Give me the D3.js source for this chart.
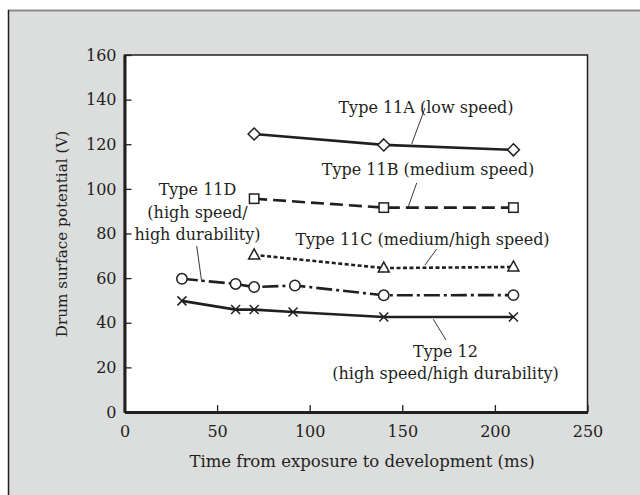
<!DOCTYPE html>
<html>
<head>
<meta charset="utf-8">
<script src="https://cdn.jsdelivr.net/npm/d3@7"></script>
<style>
  html, body { margin: 0; padding: 0; background: #ffffff; }
  svg { display: block; }
  text { font-family: "DejaVu Serif", serif; fill: #231f20; }
</style>
</head>
<body>
<svg id="chart" width="640" height="495"></svg>
<script>
// ---------- Data ----------
const xTicks = [0, 50, 100, 150, 200, 250];
const yTicks = [0, 20, 40, 60, 80, 100, 120, 140, 160];

const type11A_x = [70, 140, 210];
const type11A_y = [124.6, 119.7, 117.5];

const type11B_x = [70, 140, 210];
const type11B_y = [95.6, 91.6, 91.6];

const type11C_x = [70, 140, 210];
const type11C_y = [70.4, 64.5, 65.0];

const type11D_x = [31, 60, 70, 92, 140, 210];
const type11D_y = [59.7, 57.4, 56.0, 56.7, 52.3, 52.4];

const type12_x = [31, 60, 70, 91, 140, 210];
const type12_y = [49.8, 45.9, 45.9, 44.8, 42.6, 42.6];

const xTitle = "Time from exposure to development (ms)";
const yTitle = "Drum surface potential (V)";

const labels11A = ["Type 11A (low speed)"];
const labels11B = ["Type 11B (medium speed)"];
const labels11C = ["Type 11C (medium/high speed)"];
const labels11D = ["Type 11D", "(high speed/", "high durability)"];
const labels12 = ["Type 12", "(high speed/high durability)"];

// ---------- Layout ----------
const svg = d3.select("#chart");
const ink = "#231f20";
const plot = { left: 124.5, right: 587.5, top: 55, bottom: 412 };

const x = d3.scaleLinear().domain([0, 250]).range([plot.left, plot.right]);
const y = d3.scaleLinear().domain([0, 160]).range([plot.bottom, plot.top]);

// Panel background
svg.append("rect").attr("x", 8).attr("y", 10).attr("width", 632).attr("height", 485)
  .attr("fill", "#dcdddd");
svg.append("line").attr("x1", 8).attr("x2", 640).attr("y1", 10.5).attr("y2", 10.5)
  .attr("stroke", "#8c8c8c").attr("stroke-width", 2);
svg.append("line").attr("x1", 8.5).attr("x2", 8.5).attr("y1", 10).attr("y2", 495)
  .attr("stroke", ink).attr("stroke-width", 1.5);

// Plot area
svg.append("rect").attr("x", plot.left).attr("y", plot.top)
  .attr("width", plot.right - plot.left).attr("height", plot.bottom - plot.top)
  .attr("fill", "#ffffff").attr("stroke", ink).attr("stroke-width", 1.5);

// Axes
const xAxis = d3.axisBottom(x).tickValues(xTicks).tickSizeInner(-7).tickSizeOuter(0).tickPadding(14)
  .tickFormat(d3.format("d"));
const gx = svg.append("g").attr("transform", `translate(0,${plot.bottom})`).call(xAxis);
gx.select(".domain").attr("stroke", ink).attr("stroke-width", 3);
gx.selectAll(".tick line").attr("stroke", ink).attr("stroke-width", 1.3);
gx.selectAll(".tick text").attr("font-family", "DejaVu Serif").attr("font-size", 16).attr("fill", ink);

const yAxis = d3.axisLeft(y).tickValues(yTicks).tickSizeInner(-7).tickSizeOuter(0).tickPadding(8)
  .tickFormat(d3.format("d"));
const gy = svg.append("g").attr("transform", `translate(${plot.left},0)`).call(yAxis);
gy.select(".domain").attr("stroke", ink).attr("stroke-width", 3);
gy.selectAll(".tick line").attr("stroke", ink).attr("stroke-width", 1.3);
gy.selectAll(".tick text").attr("font-family", "DejaVu Serif").attr("font-size", 16).attr("fill", ink);

// Axis titles
svg.append("text").attr("x", 362).attr("y", 467).attr("text-anchor", "middle")
  .attr("font-size", 16.5).text(xTitle);
svg.append("text").attr("transform", "translate(67,234) rotate(-90)").attr("text-anchor", "middle")
  .attr("font-size", 15.2).text(yTitle);

// ---------- Series ----------
const line = d3.line().x(d => x(d[0])).y(d => y(d[1]));
const zip = (xs, ys) => xs.map((v, i) => [v, ys[i]]);

const series = [
  { data: zip(type11A_x, type11A_y), dash: null, marker: "diamond" },
  { data: zip(type11B_x, type11B_y), dash: "13,6", marker: "square" },
  { data: zip(type11C_x, type11C_y), dash: "4,2.5", marker: "triangle" },
  { data: zip(type11D_x, type11D_y), dash: "16,4,3,4", marker: "circle" },
  { data: zip(type12_x, type12_y), dash: null, marker: "cross" }
];

series.forEach(s => {
  svg.append("path").datum(s.data).attr("d", line)
    .attr("fill", "none").attr("stroke", ink).attr("stroke-width", 2.6)
    .attr("stroke-dasharray", s.dash);
});

series.forEach(s => {
  const g = svg.append("g");
  s.data.forEach(d => {
    const cx = x(d[0]), cy = y(d[1]);
    if (s.marker === "diamond") {
      g.append("path").attr("d", `M${cx},${cy-6}L${cx+6},${cy}L${cx},${cy+6}L${cx-6},${cy}Z`)
        .attr("fill", "#fff").attr("stroke", ink).attr("stroke-width", 1.5);
    } else if (s.marker === "square") {
      g.append("rect").attr("x", cx - 4.7).attr("y", cy - 4.7).attr("width", 9.4).attr("height", 9.4)
        .attr("fill", "#fff").attr("stroke", ink).attr("stroke-width", 1.5);
    } else if (s.marker === "triangle") {
      g.append("path").attr("d", `M${cx},${cy-6}L${cx+5.5},${cy+4}L${cx-5.5},${cy+4}Z`)
        .attr("fill", "#fff").attr("stroke", ink).attr("stroke-width", 1.5);
    } else if (s.marker === "circle") {
      g.append("circle").attr("cx", cx).attr("cy", cy).attr("r", 5.2)
        .attr("fill", "#fff").attr("stroke", ink).attr("stroke-width", 1.5);
    } else if (s.marker === "cross") {
      g.append("path").attr("d", `M${cx-4.5},${cy-4.5}L${cx+4.5},${cy+4.5}M${cx-4.5},${cy+4.5}L${cx+4.5},${cy-4.5}`)
        .attr("stroke", ink).attr("stroke-width", 1.5);
    }
  });
});

// ---------- Labels & leader lines ----------
function label(lines, cx, baseline, lh) {
  lines.forEach((t, i) => {
    svg.append("text").attr("x", cx).attr("y", baseline + i * lh)
      .attr("text-anchor", "middle").attr("font-size", 16).text(t);
  });
}
label(labels11A, 426, 113, 22);
label(labels11B, 428, 175, 22);
label(labels11C, 422.5, 245, 22);
label(labels11D, 197.5, 195, 22.5);
label(labels12, 445.5, 357, 21.5);

const leaders = [
  [425, 108, 411.7, 144],
  [416.7, 183, 408.3, 206.7],
  [436.7, 249, 425, 265],
  [196.7, 246, 201.7, 281.7],
  [433.3, 319.3, 446, 340]
];
leaders.forEach(l => {
  svg.append("line").attr("x1", l[0]).attr("y1", l[1]).attr("x2", l[2]).attr("y2", l[3])
    .attr("stroke", ink).attr("stroke-width", 0.9);
});
</script>
</body>
</html>
